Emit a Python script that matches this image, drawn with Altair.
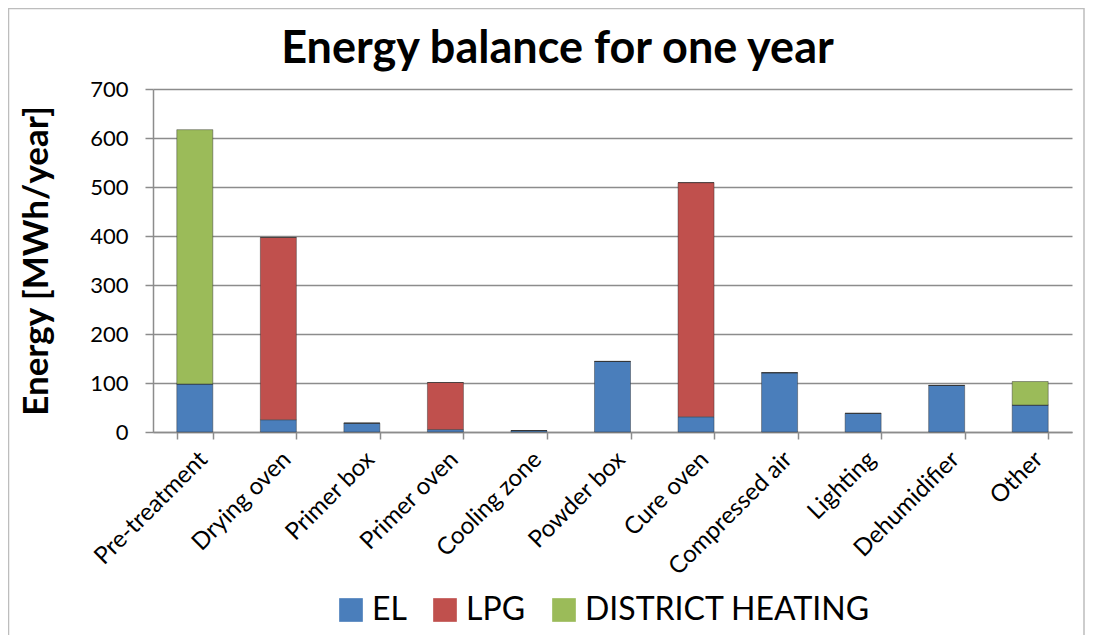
import altair as alt
import pandas as pd

categories = ["Pre-treatment", "Drying oven", "Primer box", "Primer oven", "Cooling zone",
              "Powder box", "Cure oven", "Compressed air", "Lighting", "Dehumidifier", "Other"]
el = [98, 25, 18, 5, 3, 144, 31, 121, 38, 95, 55]
lpg = [0, 372, 0, 96, 0, 0, 478, 0, 0, 0, 0]
district = [519, 0, 0, 0, 0, 0, 0, 0, 0, 0, 48]
series = ["EL", "LPG", "DISTRICT HEATING"]
colors = ["#4A7EBB", "#C0504D", "#9BBB59"]

rows = []
for i, c in enumerate(categories):
    for s, vals in zip(series, [el, lpg, district]):
        rows.append({"category": c, "source": s, "energy": vals[i], "order": series.index(s)})
df = pd.DataFrame(rows)

FONT = "Lato"
W, H = 919, 343

bars = alt.Chart(df).mark_bar(stroke="#2f2f2f", strokeWidth=0.8, strokeOpacity=0.55).encode(
    x=alt.X("category:N", sort=categories, title=None,
            scale=alt.Scale(paddingInner=0.569, paddingOuter=0.285),
            axis=alt.Axis(labelAngle=-45, labelFontSize=24, labelFont=FONT, labelColor="black",
                          tickBand="extent", tickSize=7, tickColor="#8c8c8c", tickWidth=1.5,
                          domainColor="#8c8c8c", domainWidth=1.5, labelPadding=8, labelLimit=0)),
    y=alt.Y("energy:Q", title="Energy [MWh/year]", stack="zero",
            scale=alt.Scale(domain=[0, 700], nice=False),
            axis=alt.Axis(values=list(range(0, 701, 100)), labelFontSize=22, labelFont=FONT,
                          labelColor="black", titleFontSize=35, titleFont=FONT, titleFontWeight="bold",
                          titleColor="black", tickSize=8, tickColor="#8c8c8c", tickWidth=1.5,
                          domainColor="#8c8c8c", domainWidth=1.5, gridColor="#8c8c8c",
                          gridWidth=1.5, titlePadding=35, labelPadding=17)),
    color=alt.Color("source:N", sort=series, scale=alt.Scale(domain=series, range=colors),
                    legend=alt.Legend(orient="none", legendX=182, legendY=505, direction="horizontal",
                                      title=None, labelFontSize=32, labelFont=FONT, labelColor="black",
                                      symbolType="square", symbolSize=560, symbolStrokeWidth=0,
                                      columnPadding=22, labelOffset=5, labelLimit=0)),
    order=alt.Order("order:Q"),
)

border = alt.Chart(pd.DataFrame({"b": [0]})).mark_rect(
    fill=None, stroke="#bdbdbd", strokeWidth=1.5
).encode(
    x=alt.value(-144.5), x2=alt.value(931), y=alt.value(-80.5), y2=alt.value(600)
)

chart = alt.layer(border, bars).properties(
    width=W, height=H,
    autosize=alt.AutoSizeParams(type="none"),
    padding={"left": 145, "top": 81, "right": 13, "bottom": 203},
    title=alt.TitleParams("Energy balance for one year", fontSize=45, font=FONT, fontWeight="bold",
                          color="black", anchor="middle", frame="group", dx=-55, offset=-64),
).configure_view(stroke=None)

chart.save("out.html", embed_options={"renderer": "svg", "actions": False})
